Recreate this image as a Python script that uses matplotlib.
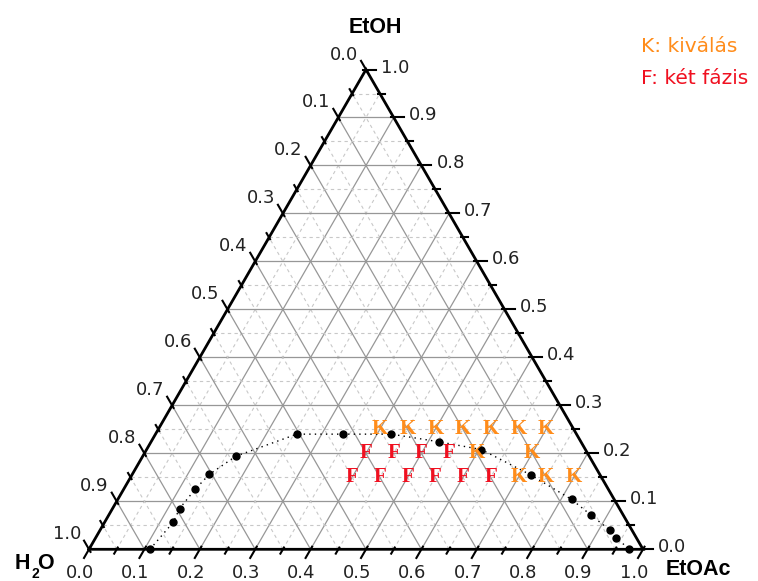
import numpy as np
import matplotlib
matplotlib.use('Agg')
import matplotlib.pyplot as plt

plt.rcParams['font.family'] = ['Liberation Sans', 'DejaVu Sans']

# binodal points (EtOAc, EtOH), H2O = 1 - both
curve_etoac = [0.110, 0.124, 0.121, 0.129, 0.139, 0.168, 0.255, 0.339, 0.426,
               0.520, 0.604, 0.720, 0.819, 0.871, 0.920, 0.940, 0.975]
curve_etoh = [0.000, 0.057, 0.085, 0.125, 0.156, 0.194, 0.240, 0.240, 0.240,
              0.224, 0.208, 0.155, 0.104, 0.071, 0.040, 0.024, 0.000]

# K = kiválás, F = két fázis
k_etoac = [0.40, 0.45, 0.50, 0.55, 0.60, 0.65, 0.70, 0.60, 0.70, 0.70, 0.75, 0.80]
k_etoh = [0.25, 0.25, 0.25, 0.25, 0.25, 0.25, 0.25, 0.20, 0.20, 0.15, 0.15, 0.15]
f_etoac = [0.40, 0.45, 0.50, 0.55, 0.40, 0.45, 0.50, 0.55, 0.60, 0.65]
f_etoh = [0.20, 0.20, 0.20, 0.20, 0.15, 0.15, 0.15, 0.15, 0.15, 0.15]

tick_vals = np.round(np.arange(0, 1.01, 0.1), 1)
tick_labels = ['%.1f' % v for v in tick_vals]

H = np.sqrt(3) / 2


def xy(etoac, etoh):
    etoac = np.asarray(etoac, dtype=float)
    etoh = np.asarray(etoh, dtype=float)
    return etoac + etoh / 2, etoh * H


fig = plt.figure(figsize=(7.58, 5.81), dpi=100)
ax = fig.add_axes([0, 0, 1, 1])
S = 554.0  # px per unit
ax.set_xlim(-89 / S, (758 - 89) / S)
ax.set_ylim(-31.7 / S, (581 - 31.7) / S)
ax.axis('off')
px = 1 / S

# grid
for i in range(1, 20):
    t = i / 20
    major = i % 2 == 0
    kw = dict(color='#979797', lw=0.9, ls='-') if major else dict(color='#c8c8c8', lw=0.8, ls=(0, (3, 3)))
    x, y = xy([0, 1 - t], [t, t]); ax.plot(x, y, zorder=1, **kw)
    x, y = xy([t, t], [0, 1 - t]); ax.plot(x, y, zorder=1, **kw)
    x, y = xy([1 - t, 0], [0, 1 - t]); ax.plot(x, y, zorder=1, **kw)

# frame
x, y = xy([0, 1, 0, 0], [0, 0, 1, 0])
ax.plot(x, y, color='black', lw=2, zorder=3, solid_joinstyle='miter')

# ticks
d_bot = np.array([-0.5, -H])
d_right = np.array([1.0, 0.0])
d_left = np.array([-0.5, H])
for i in range(0, 21):
    t = i / 20
    major = i % 2 == 0
    lo, li = (10, 3) if major else (5, 2)
    for p, d in [(xy(t, 0), d_bot), (xy(1 - t, t), d_right), (xy(0, 1 - t), d_left)]:
        p = np.array(p)
        a = p - d * li * px
        b = p + d * lo * px
        ax.plot([a[0], b[0]], [a[1], b[1]], color='black', lw=1.5, zorder=3)

lab_kw = dict(fontsize=13, color='#222222', family='DejaVu Sans')
for v, s in zip(tick_vals, tick_labels):
    x, y = xy(v, 0)
    ax.text(x - 9 * px, y - 24 * px, s, ha='center', va='center', **lab_kw)
    x, y = xy(1 - v, v)
    ax.text(x + 15 * px, y + 2 * px, s, ha='left', va='center', **lab_kw)
    x, y = xy(0, 1 - v)
    ax.text(x - 8 * px, y + 15 * px, s, ha='right', va='center', **lab_kw)

# axis titles
ax.text(0.5 + 9 * px, H + 42 * px, 'EtOH', ha='center', va='center', fontsize=15.5, fontweight='bold')
ax.text(1 + 23 * px, -20 * px, 'EtOAc', ha='left', va='center', fontsize=15.5, fontweight='bold')
ax.text(-74 * px, -14 * px, 'H', ha='left', va='center', fontsize=15.5, fontweight='bold')
ax.text(-58 * px, -25 * px, '2', ha='left', va='center', fontsize=10, fontweight='bold')
ax.text(-52 * px, -14 * px, 'O', ha='left', va='center', fontsize=15.5, fontweight='bold')

# binodal curve
x, y = xy(curve_etoac, curve_etoh)
ax.plot(x, y, color='black', lw=1, ls=(0, (1, 3)), zorder=4)
ax.plot(x, y, 'o', color='black', ms=5, zorder=5)

# K / F markers
for a, e in zip(k_etoac, k_etoh):
    x, y = xy(a, e)
    ax.text(x, y, 'K', ha='center', va='center', fontsize=15, fontweight='bold',
            family='Liberation Serif', color='#FF8C1A', zorder=6)
for a, e in zip(f_etoac, f_etoh):
    x, y = xy(a, e)
    ax.text(x, y, 'F', ha='center', va='center', fontsize=15, fontweight='bold',
            family='Liberation Serif', color='#F01020', zorder=6)

# legend
fig.text(641 / 758, 1 - 47 / 581, 'K: kiválás', ha='left', va='center', fontsize=14.5,
         color='#FF8C1A', family='DejaVu Sans')
fig.text(641 / 758, 1 - 78 / 581, 'F: két fázis', ha='left', va='center', fontsize=14.5,
         color='#F01020', family='DejaVu Sans')

fig.savefig('out.png', dpi=100)
